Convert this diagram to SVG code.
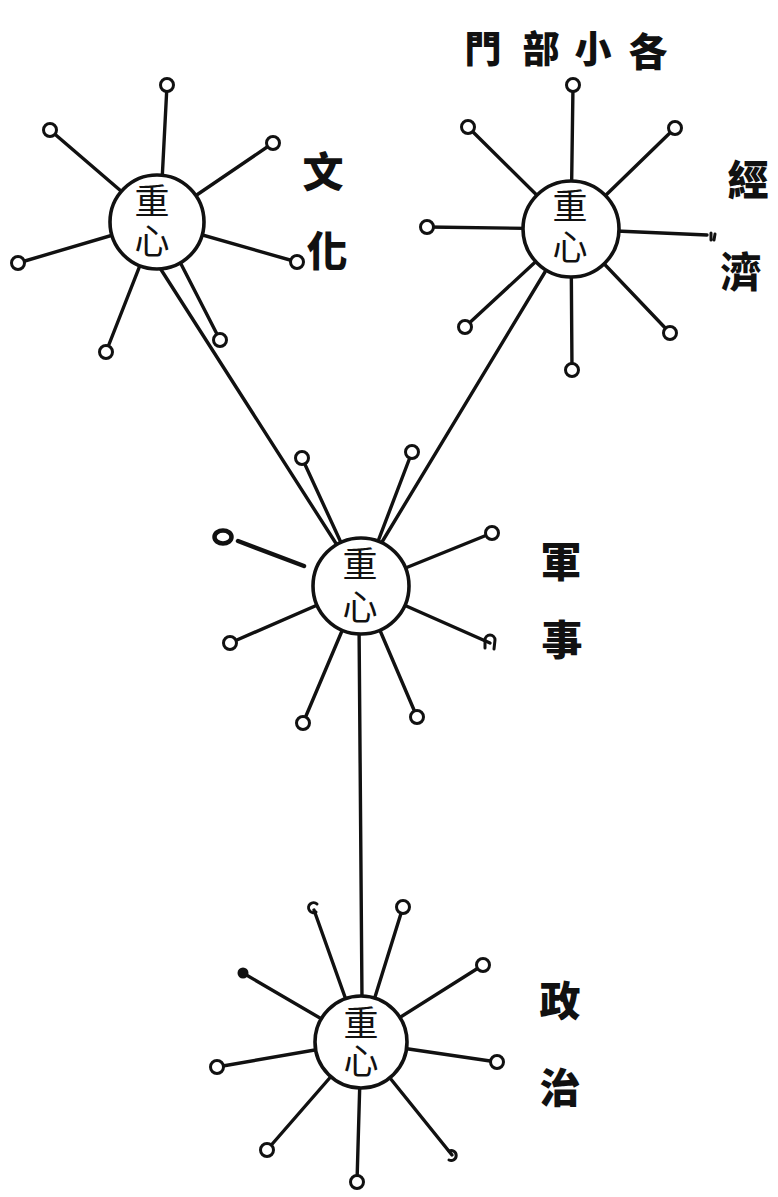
<svg xmlns="http://www.w3.org/2000/svg" width="778" height="1197" viewBox="0 0 778 1197">
<style>
.ln{stroke:#111;stroke-width:3.4;stroke-linecap:round;fill:none}
.hub{fill:#fff;stroke:#111;stroke-width:3.6}
.end{fill:#fff;stroke:#111;stroke-width:3}
.arc{fill:none;stroke:#111;stroke-width:3;stroke-linecap:round}
.ht{font-family:"Noto Sans CJK TC","Noto Sans CJK SC",sans-serif;font-size:35px;fill:#111;text-anchor:middle;font-weight:400;writing-mode:vertical-rl}
.lb{font-family:"Noto Sans CJK TC","Noto Sans CJK SC",sans-serif;font-size:41px;fill:#111;text-anchor:middle;font-weight:900}
</style>
<rect width="778" height="1197" fill="#fff"/>
<g id="connectors">
<line class="ln" x1="160" y1="268" x2="337" y2="545"/>
<line class="ln" x1="545" y1="272" x2="382" y2="542"/>
<line class="ln" x1="359" y1="620" x2="362" y2="1000"/>
</g>
<g id="hub-culture">
<line class="ln" x1="160" y1="220" x2="167" y2="85"/>
<line class="ln" x1="157" y1="222" x2="50" y2="130"/>
<line class="ln" x1="157" y1="222" x2="273" y2="143"/>
<line class="ln" x1="157" y1="222" x2="18" y2="263"/>
<line class="ln" x1="157" y1="222" x2="297" y2="262"/>
<line class="ln" x1="157" y1="222" x2="106" y2="352"/>
<line class="ln" x1="180" y1="262" x2="220" y2="340"/>
<circle class="hub" cx="157" cy="222" r="47"/>
<text class="ht" x="152" y="223" letter-spacing="5">重心</text>
<circle class="end" cx="167" cy="85" r="6.5"/>
<circle class="end" cx="50" cy="130" r="6.5"/>
<circle class="end" cx="273" cy="143" r="6.5"/>
<circle class="end" cx="18" cy="263" r="6.5"/>
<circle class="end" cx="297" cy="262" r="6.5"/>
<circle class="end" cx="106" cy="352" r="6.5"/>
<circle class="end" cx="220" cy="340" r="6.5"/>
<text class="lb" x="323" y="187">文</text>
<text class="lb" x="327" y="266">化</text>
</g>
<g id="hub-economy">
<line class="ln" x1="571" y1="229" x2="573" y2="85"/>
<line class="ln" x1="571" y1="229" x2="468" y2="127"/>
<line class="ln" x1="571" y1="229" x2="675" y2="128"/>
<line class="ln" x1="571" y1="229" x2="427" y2="227"/>
<line class="ln" x1="571" y1="229" x2="707" y2="235"/>
<line class="ln" x1="571" y1="229" x2="465" y2="327"/>
<line class="ln" x1="571" y1="229" x2="670" y2="333"/>
<line class="ln" x1="571" y1="229" x2="572" y2="370"/>
<circle class="hub" cx="571" cy="229" r="48"/>
<text class="ht" x="570" y="229" letter-spacing="6">重心</text>
<circle class="end" cx="573" cy="85" r="6.5"/>
<circle class="end" cx="468" cy="127" r="6.5"/>
<circle class="end" cx="675" cy="128" r="6.5"/>
<circle class="end" cx="427" cy="227" r="6.5"/>
<path class="arc" d="M711 233 L711 240 M715 234 L714 240"/>
<circle class="end" cx="465" cy="327" r="6.5"/>
<circle class="end" cx="670" cy="333" r="6.5"/>
<circle class="end" cx="572" cy="370" r="6.5"/>
<text class="lb" x="748" y="195">經</text>
<text class="lb" x="741" y="287">濟</text>
</g>
<g id="hub-military">
<line class="ln" x1="361" y1="586" x2="302" y2="458"/>
<line class="ln" x1="361" y1="586" x2="412" y2="452"/>
<line class="ln" x1="361" y1="586" x2="492" y2="533"/>
<line class="ln" x1="361" y1="586" x2="230" y2="643"/>
<line class="ln" x1="361" y1="586" x2="490" y2="643"/>
<line class="ln" x1="361" y1="586" x2="303" y2="723"/>
<line class="ln" x1="361" y1="586" x2="417" y2="717"/>
<line class="ln" x1="238" y1="541" x2="304" y2="566" style="stroke-width:4.5"/>
<circle class="hub" cx="361" cy="586" r="48"/>
<text class="ht" x="360" y="589" letter-spacing="8">重心</text>
<circle class="end" cx="302" cy="458" r="6.5"/>
<circle class="end" cx="412" cy="452" r="6.5"/>
<circle class="end" cx="492" cy="533" r="6.5"/>
<circle class="end" cx="230" cy="643" r="6.5"/>
<path class="arc" d="M485 648 L485 640 A5 5 0 0 1 495 640 L494 649"/>
<circle class="end" cx="303" cy="723" r="6.5"/>
<circle class="end" cx="417" cy="717" r="6.5"/>
<ellipse cx="223" cy="537" rx="8.5" ry="6.5" fill="#fff" stroke="#111" stroke-width="4.5"/>
<text class="lb" x="561" y="577">軍</text>
<text class="lb" x="562" y="655">事</text>
</g>
<g id="hub-politics">
<line class="ln" x1="361" y1="1042" x2="314" y2="910"/>
<line class="ln" x1="361" y1="1042" x2="403" y2="907"/>
<line class="ln" x1="361" y1="1042" x2="243" y2="973"/>
<line class="ln" x1="361" y1="1042" x2="483" y2="965"/>
<line class="ln" x1="361" y1="1042" x2="217" y2="1067"/>
<line class="ln" x1="361" y1="1042" x2="497" y2="1062"/>
<line class="ln" x1="361" y1="1042" x2="267" y2="1150"/>
<line class="ln" x1="361" y1="1042" x2="452" y2="1155"/>
<line class="ln" x1="361" y1="1042" x2="357" y2="1182"/>
<circle class="hub" cx="361" cy="1042" r="46"/>
<text class="ht" x="361" y="1043" letter-spacing="3">重心</text>
<path class="arc" d="M317 904 A5 5 0 1 0 316 912"/>
<circle class="end" cx="403" cy="907" r="6.5"/>
<circle cx="243" cy="973" r="5.5" fill="#111"/>
<circle class="end" cx="483" cy="965" r="6.5"/>
<circle class="end" cx="217" cy="1067" r="6.5"/>
<circle class="end" cx="497" cy="1062" r="6.5"/>
<circle class="end" cx="267" cy="1150" r="6.5"/>
<path class="arc" d="M449 1151 A5 5 0 1 1 449 1160"/>
<circle class="end" cx="357" cy="1182" r="6.5"/>
<text class="lb" x="560" y="1016">政</text>
<text class="lb" x="560" y="1103">治</text>
</g>
<g id="top-label">
<text class="lb" x="483" y="63" style="font-size:37px">門</text>
<text class="lb" x="541" y="63" style="font-size:37px">部</text>
<text class="lb" x="593" y="63" style="font-size:37px">小</text>
<text class="lb" x="648" y="66" style="font-size:39px">各</text>
</g>
</svg>
